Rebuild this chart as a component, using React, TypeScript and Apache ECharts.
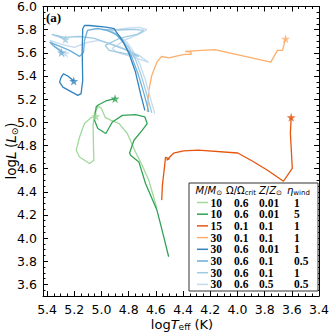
import React, { useEffect, useRef } from "react";
import * as echarts from "echarts";

// ---------- axis ticks ----------
const X_MIN = 3.4;
const X_MAX = 5.43;
const Y_MIN = 3.5;
const Y_MAX = 6.0;
const X_MAJOR = [5.4, 5.2, 5.0, 4.8, 4.6, 4.4, 4.2, 4.0, 3.8, 3.6, 3.4];
const Y_MAJOR = [3.6, 3.8, 4.0, 4.2, 4.4, 4.6, 4.8, 5.0, 5.2, 5.4, 5.6, 5.8, 6.0];

// ---------- legend table ----------
const masses = ["10", "10", "15", "30", "30", "30", "30", "30"];
const omegas = ["0.6", "0.6", "0.1", "0.1", "0.6", "0.6", "0.6", "0.6"];
const metals = ["0.01", "0.01", "0.1", "0.1", "0.01", "0.1", "0.1", "0.5"];
const etas = ["1", "5", "1", "1", "1", "0.5", "1", "0.5"];
const colors = ["#a1d99b", "#31a354", "#e6550d", "#fdae6b", "#3182bd", "#6baed6", "#9ecae1", "#c6dbef"];

// ---------- tracks [logTeff, logL]; last point = end (star) ----------
const trackM10_Z001_eta1 = [
  [4.592, 4.256], [4.652, 4.5], [4.701, 4.629], [4.75, 4.744], [4.81, 4.903], [4.87, 4.989],
  [4.929, 5.017], [4.973, 5.043], [5.001, 5.121], [5.022, 5.138], [5.051, 5.086], [5.062, 4.974],
  [5.059, 4.802], [5.056, 4.672], [5.088, 4.644], [5.161, 4.701], [5.186, 4.759], [5.161, 4.873],
  [5.125, 4.989], [5.073, 5.043], [5.041, 5.052],
];
const trackM10_Z001_eta5 = [
  [4.506, 3.839], [4.542, 4.011], [4.592, 4.241], [4.639, 4.371], [4.676, 4.472], [4.725, 4.658],
  [4.786, 4.716], [4.793, 4.735], [4.761, 4.845], [4.701, 4.931], [4.664, 4.989], [4.681, 5.046],
  [4.75, 5.066], [4.846, 5.06], [4.92, 5.003], [4.968, 4.903], [5.027, 4.946], [5.051, 5.017],
  [5.039, 5.132], [5.027, 5.147], [4.968, 5.184], [4.9, 5.204],
];
const trackM15_Z01_eta1 = [
  [4.557, 4.328], [4.552, 4.457], [4.535, 4.63], [4.529, 4.698], [4.5, 4.685], [4.521, 4.672],
  [4.47, 4.733], [4.397, 4.754], [4.288, 4.759], [3.998, 4.735], [3.888, 4.664], [3.779, 4.586],
  [3.662, 4.491], [3.597, 4.603], [3.604, 4.759], [3.611, 4.905], [3.605, 5.043],
];
const trackM30_O01_Z01_eta1 = [
  [4.663, 5.09], [4.652, 5.276], [4.63, 5.405], [4.592, 5.52], [4.558, 5.569], [4.506, 5.556],
  [4.39, 5.586], [4.341, 5.586], [4.341, 5.606], [4.385, 5.612], [4.167, 5.627], [3.755, 5.52],
  [3.706, 5.621], [3.669, 5.621], [3.646, 5.722],
];
const trackM30_O06_Z001_eta1 = [
  [4.681, 5.103], [4.713, 5.247], [4.75, 5.434], [4.797, 5.592], [4.846, 5.707], [4.89, 5.778],
  [4.906, 5.808], [4.968, 5.822], [5.088, 5.836], [5.125, 5.836], [5.138, 5.808], [5.142, 5.621],
  [5.138, 5.362], [5.15, 5.247], [5.174, 5.233], [5.284, 5.304], [5.308, 5.347], [5.296, 5.391],
  [5.28, 5.418], [5.247, 5.4], [5.204, 5.356],
];
const trackM30_O06_Z01_eta05 = [
  [4.652, 5.089], [4.688, 5.25], [4.732, 5.422], [4.782, 5.578], [4.834, 5.681], [4.893, 5.759],
  [4.957, 5.793], [5.03, 5.81], [5.103, 5.793], [5.125, 5.707], [5.132, 5.603], [5.161, 5.569],
  [5.235, 5.621], [5.323, 5.664], [5.379, 5.69], [5.357, 5.664], [5.308, 5.621], [5.294, 5.603],
];
const trackM30_O06_Z01_eta1 = [
  [4.63, 5.082], [4.667, 5.241], [4.71, 5.414], [4.753, 5.552], [4.805, 5.655], [4.863, 5.733],
  [4.929, 5.784], [4.994, 5.802], [4.87, 5.797], [4.761, 5.802], [4.688, 5.793], [4.739, 5.759],
  [4.87, 5.724], [4.973, 5.664], [4.944, 5.621], [4.834, 5.595], [4.724, 5.569], [4.812, 5.621],
  [4.929, 5.672], [5.051, 5.724], [5.161, 5.741], [5.271, 5.733], [5.366, 5.759], [5.323, 5.741],
  [5.265, 5.716],
];
const trackM30_O06_Z05_eta05 = [
  [4.608, 5.073], [4.644, 5.224], [4.681, 5.379], [4.717, 5.5], [4.761, 5.603], [4.812, 5.69],
  [4.87, 5.75], [4.929, 5.793], [4.834, 5.81], [4.724, 5.819], [4.667, 5.802], [4.71, 5.767],
  [4.834, 5.707], [4.921, 5.638], [4.885, 5.603], [4.761, 5.56], [4.652, 5.517], [4.724, 5.578],
  [4.87, 5.655], [5.016, 5.707], [5.103, 5.69], [5.199, 5.647], [5.294, 5.672], [5.379, 5.707],
  [5.338, 5.655], [5.265, 5.595],
];

const tracks = [
  trackM10_Z001_eta1,
  trackM10_Z001_eta5,
  trackM15_Z01_eta1,
  trackM30_O01_Z01_eta1,
  trackM30_O06_Z001_eta1,
  trackM30_O06_Z01_eta05,
  trackM30_O06_Z01_eta1,
  trackM30_O06_Z05_eta05,
];
const drawOrder = [0, 1, 2, 3, 7, 6, 5, 4];

const STAR = "path://M50,0 L61.8,35.5 L99,35.5 L69,57.5 L80.5,93 L50,71 L19.5,93 L31,57.5 L1,35.5 L38.2,35.5 Z";

function minorTicks(lo: number, hi: number, majors: number[]) {
  const out: number[] = [];
  for (let k = Math.ceil(lo / 0.05 - 1e-6); k <= Math.floor(hi / 0.05 + 1e-6); k++) {
    const v = +(k * 0.05).toFixed(2);
    if (v <= lo || v >= hi) continue;
    if (!majors.some((m) => Math.abs(m - v) < 1e-6)) out.push(v);
  }
  return out;
}

const SANS = "DejaVu Sans";
const SERIF = "Liberation Serif";

function xAxis(position: string, ticks: number[], len: number, line: boolean, labels: boolean) {
  return {
    type: "value",
    position,
    inverse: true,
    min: X_MIN,
    max: X_MAX,
    axisLine: { show: line, onZero: false, lineStyle: { color: "#000", width: 1 } },
    axisTick: { show: true, inside: true, length: len, customValues: ticks, lineStyle: { color: "#000", width: 1 } },
    axisLabel: labels
      ? { show: true, customValues: ticks, formatter: (v: number) => v.toFixed(1), color: "#000", fontSize: 12.5, fontFamily: SANS, margin: 7 }
      : { show: false },
    splitLine: { show: false },
    minorTick: { show: false },
  };
}
function yAxis(position: string, ticks: number[], len: number, line: boolean, labels: boolean) {
  return {
    type: "value",
    position,
    min: Y_MIN,
    max: Y_MAX,
    axisLine: { show: line, onZero: false, lineStyle: { color: "#000", width: 1 } },
    axisTick: { show: true, inside: true, length: len, customValues: ticks, lineStyle: { color: "#000", width: 1 } },
    axisLabel: labels
      ? { show: true, customValues: ticks, formatter: (v: number) => v.toFixed(1), color: "#000", fontSize: 12.5, fontFamily: SANS, margin: 6 }
      : { show: false },
    splitLine: { show: false },
    minorTick: { show: false },
  };
}

export default function App() {
  const ref = useRef<HTMLDivElement>(null);
  useEffect(() => {
    if (!ref.current) return;
    const chart = echarts.init(ref.current, null, { renderer: "svg" });
    const xMinor = minorTicks(X_MIN, X_MAX, X_MAJOR);
    const yMinor = minorTicks(Y_MIN, Y_MAX, Y_MAJOR);

    const series: any[] = [];
    drawOrder.forEach((i) => {
      series.push({
        type: "line",
        data: tracks[i],
        xAxisIndex: 0,
        yAxisIndex: 0,
        showSymbol: false,
        symbol: "none",
        lineStyle: { color: colors[i], width: 1.3 },
        silent: true,
        z: 2,
      });
    });
    drawOrder.forEach((i) => {
      series.push({
        type: "scatter",
        data: [tracks[i][tracks[i].length - 1]],
        xAxisIndex: 0,
        yAxisIndex: 0,
        symbol: STAR,
        symbolSize: 9,
        itemStyle: { color: colors[i] },
        silent: true,
        z: 3,
      });
    });

    // legend table
    const LX = 189, LY = 183, LW = 129, LH = 108;
    const rowY0 = 202.5, rowDY = 11.7;
    const graphic: any[] = [
      {
        type: "text",
        left: 46,
        top: 11,
        style: { text: "(a)", font: `bold 13px ${SERIF}`, fill: "#000" },
      },
      {
        type: "text",
        x: 11,
        y: 151,
        rotation: Math.PI / 2,
        style: {
          text: "{n|log}{i|L} {n|(}{i|L}{s|⊙}{n|)}",
          align: "center",
          verticalAlign: "middle",
          fill: "#000",
          rich: {
            n: { fontFamily: SANS, fontSize: 13.5, lineHeight: 16 },
            i: { fontFamily: SANS, fontSize: 13.5, fontStyle: "italic", lineHeight: 16 },
            s: { fontFamily: SANS, fontSize: 9, lineHeight: 9, verticalAlign: "bottom" },
          },
        },
      },
      {
        type: "text",
        x: 182,
        y: 324,
        style: {
          text: "{n|log}{i|T}{s|eff}{n| (K)}",
          align: "center",
          verticalAlign: "middle",
          fill: "#000",
          rich: {
            n: { fontFamily: SANS, fontSize: 13, lineHeight: 14 },
            i: { fontFamily: SANS, fontSize: 13, fontStyle: "italic", lineHeight: 14 },
            s: { fontFamily: SANS, fontSize: 9, lineHeight: 8, verticalAlign: "bottom" },
          },
        },
      },
      {
        type: "rect",
        shape: { x: LX, y: LY, width: LW, height: LH },
        style: { fill: "#fff", stroke: "#333", lineWidth: 1 },
        z: 10,
      },
    ];
    const hdrRich = {
      n: { fontFamily: SANS, fontSize: 10, lineHeight: 12 },
      i: { fontFamily: SANS, fontSize: 10, fontStyle: "italic", lineHeight: 12 },
      s: { fontFamily: SANS, fontSize: 7, lineHeight: 6, verticalAlign: "bottom" },
    };
    const headers = [
      { x: 195.5, t: "{i|M}{n|/}{i|M}{s|⊙}" },
      { x: 226, t: "{n|Ω/Ω}{s|crit}" },
      { x: 259, t: "{i|Z}{n|/}{i|Z}{s|⊙}" },
      { x: 287, t: "{i|η}{s|wind}" },
    ];
    headers.forEach((h) => {
      graphic.push({
        type: "text",
        x: h.x,
        y: 190,
        z: 11,
        style: { text: h.t, rich: hdrRich, align: "left", verticalAlign: "middle", fill: "#000" },
      });
    });
    masses.forEach((m, i) => {
      const y = rowY0 + i * rowDY;
      graphic.push({
        type: "line",
        z: 11,
        shape: { x1: 197, y1: y, x2: 208, y2: y },
        style: { stroke: colors[i], lineWidth: 1.5 },
      });
      const cells = [
        { x: 210.5, t: m },
        { x: 234, t: omegas[i] },
        { x: 259, t: metals[i] },
        { x: 294, t: etas[i] },
      ];
      cells.forEach((c) => {
        graphic.push({
          type: "text",
          x: c.x,
          y: y,
          z: 11,
          style: { text: c.t, font: `bold 11.5px ${SERIF}`, fill: "#000", align: "left", verticalAlign: "middle" },
        });
      });
    });

    chart.setOption({
      animation: false,
      backgroundColor: "#fff",
      grid: { left: 43, top: 6, width: 279, height: 290, show: false },
      xAxis: [
        xAxis("bottom", X_MAJOR, 5, true, true),
        xAxis("bottom", xMinor, 2.5, false, false),
        xAxis("top", X_MAJOR, 5, true, false),
        xAxis("top", xMinor, 2.5, false, false),
      ],
      yAxis: [
        yAxis("left", Y_MAJOR, 5, true, true),
        yAxis("left", yMinor, 2.5, false, false),
        yAxis("right", Y_MAJOR, 5, true, false),
        yAxis("right", yMinor, 2.5, false, false),
      ],
      series,
      graphic,
    });
    return () => chart.dispose();
  }, []);
  return <div ref={ref} style={{ position: "absolute", left: 0, top: 0, width: 332, height: 332 }} />;
}
